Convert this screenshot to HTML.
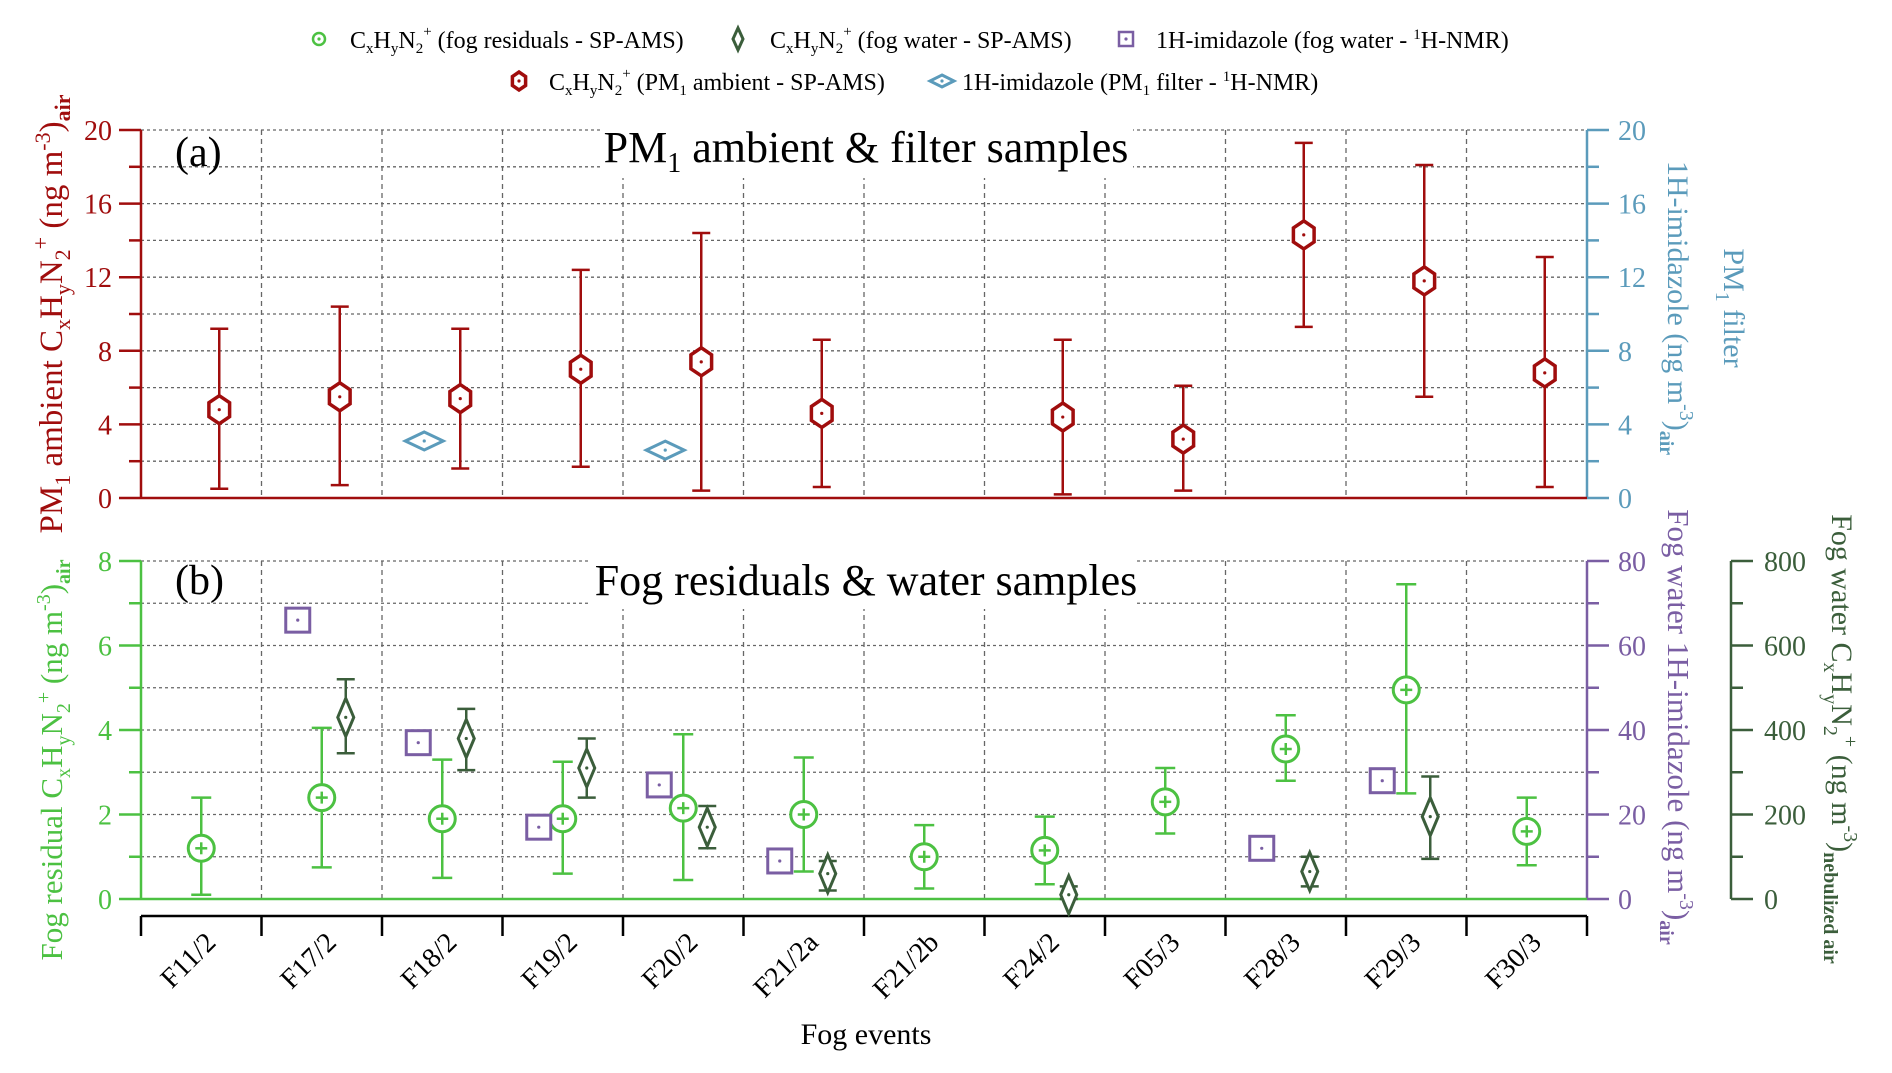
<!DOCTYPE html>
<html><head><meta charset="utf-8"><style>
html,body{margin:0;padding:0;background:#fff}
svg{display:block;font-family:"Liberation Serif",serif}
</style></head><body>
<svg id="c" width="1892" height="1073" viewBox="0 0 1892 1073" xmlns="http://www.w3.org/2000/svg">
<g id="grid"></g>
<rect x="603" y="124" width="530" height="54" fill="#fff"/>
<rect x="590" y="553" width="547" height="56" fill="#fff"/>
<text x="175" y="166" font-size="42">(a)</text>
<text x="866" y="162" font-size="44" text-anchor="middle">PM<tspan font-size="28" dy="10">1</tspan><tspan dy="-10"> ambient &amp; filter samples</tspan></text>
<text x="175" y="594" font-size="42">(b)</text>
<text x="866" y="595" font-size="44" text-anchor="middle">Fog residuals &amp; water samples</text>
<g id="axes"></g>
<g id="marks"></g>
<g id="legend"></g>
<text x="866" y="1044" font-size="30" text-anchor="middle">Fog events</text>
<text transform="translate(62,314) rotate(-90)" font-size="33" fill="#a00d0d" text-anchor="middle">PM<tspan font-size="22" dy="8">1</tspan><tspan dy="-8"> ambient C</tspan><tspan font-size="22" dy="8">x</tspan><tspan dy="-8">H</tspan><tspan font-size="22" dy="8">y</tspan><tspan dy="-8">N</tspan><tspan font-size="22" dy="8">2</tspan><tspan font-size="22" dy="-22">+</tspan><tspan dy="14"> (ng m</tspan><tspan font-size="22" dy="-12">-3</tspan><tspan dy="12">)</tspan><tspan font-size="22" font-weight="bold" dy="8">air</tspan></text>
<text transform="translate(62,760) rotate(-90)" font-size="31" fill="#4cc142" text-anchor="middle">Fog residual C<tspan font-size="20" dy="8">x</tspan><tspan dy="-8">H</tspan><tspan font-size="20" dy="8">y</tspan><tspan dy="-8">N</tspan><tspan font-size="20" dy="8">2</tspan><tspan font-size="20" dy="-20">+</tspan><tspan dy="12"> (ng m</tspan><tspan font-size="20" dy="-12">-3</tspan><tspan dy="12">)</tspan><tspan font-size="20" font-weight="bold" dy="8">air</tspan></text>
<text transform="translate(1668,308) rotate(90)" font-size="30" fill="#5b9bbb" text-anchor="middle">1H-imidazole (ng m<tspan font-size="20" dy="-12">-3</tspan><tspan dy="12">)</tspan><tspan font-size="20" font-weight="bold" dy="8">air</tspan></text>
<text transform="translate(1724,308) rotate(90)" font-size="30" fill="#5b9bbb" text-anchor="middle">PM<tspan font-size="20" dy="8">1</tspan><tspan dy="-8"> filter</tspan></text>
<text transform="translate(1668,727) rotate(90)" font-size="31" fill="#7a5ea3" text-anchor="middle">Fog water 1H-imidazole (ng m<tspan font-size="20" dy="-12">-3</tspan><tspan dy="12">)</tspan><tspan font-size="20" font-weight="bold" dy="8">air</tspan></text>
<text transform="translate(1832,739) rotate(90)" font-size="30" fill="#3b5e3b" text-anchor="middle">Fog water C<tspan font-size="20" dy="8">x</tspan><tspan dy="-8">H</tspan><tspan font-size="20" dy="8">y</tspan><tspan dy="-8">N</tspan><tspan font-size="20" dy="8">2</tspan><tspan font-size="20" dy="-20">+</tspan><tspan dy="12"> (ng m</tspan><tspan font-size="20" dy="-12">-3</tspan><tspan dy="12">)</tspan><tspan font-size="20" font-weight="bold" dy="8">nebulized air</tspan></text>
</svg>
<script>
const categories=["F11/2","F17/2","F18/2","F19/2","F20/2","F21/2a","F21/2b","F24/2","F05/3","F28/3","F29/3","F30/3"];
const pmMean=[4.8,5.5,5.4,7.0,7.4,4.6,null,4.4,3.2,14.3,11.8,6.8];
const pmLow=[0.5,0.7,1.6,1.7,0.4,0.6,null,0.2,0.4,9.3,5.5,0.6];
const pmHigh=[9.2,10.4,9.2,12.4,14.4,8.6,null,8.6,6.1,19.3,18.1,13.1];
const filterImid=[null,null,3.1,null,2.6,null,null,null,null,null,null,null];
const resMean=[1.2,2.4,1.9,1.9,2.15,2.0,1.0,1.15,2.3,3.55,4.95,1.6];
const resLow=[0.1,0.75,0.5,0.6,0.45,0.65,0.25,0.35,1.55,2.8,2.5,0.8];
const resHigh=[2.4,4.05,3.3,3.25,3.9,3.35,1.75,1.95,3.1,4.35,7.45,2.4];
const waterImid=[null,66,37,17,27,9,null,null,null,12,28,null];
const waterMean=[null,430,380,310,170,60,null,10,null,65,195,null];
const waterLow=[null,345,305,240,120,20,null,0,null,30,95,null];
const waterHigh=[null,520,450,380,220,90,null,30,null,100,290,null];
const ticksA=[0,4,8,12,16,20];
const ticksB=[0,2,4,6,8];
const ticksP=[0,20,40,60,80];
const ticksW=[0,200,400,600,800];

const NS="http://www.w3.org/2000/svg";
const XL=141,XR=1587,CW=(XR-XL)/12;
const cx=i=>XL+CW*(i+0.5);
const yA=v=>498-(v/20)*368;
const yB=v=>899-(v/8)*338;
const yP=v=>899-(v/80)*338;
const yW=v=>899-(v/800)*338;
const RED="#a00d0d",BLUE="#5b9bbb",GREEN="#4cc142",DG="#3b5e3b",PUR="#7a5ea3";
function mk(p,tag,at){const e=document.createElementNS(NS,tag);for(const k in at)e.setAttribute(k,at[k]);p.appendChild(e);return e;}
const grid=document.getElementById('grid'),axes=document.getElementById('axes'),marks=document.getElementById('marks'),legend=document.getElementById('legend');
for(let v=2;v<=20;v+=2){const l=mk(grid,'line',{x1:XL,x2:XR,y1:yA(v),y2:yA(v),stroke:'#666','stroke-width':1.3,'stroke-dasharray':'3,3'});

}
for(let v=1;v<=8;v++){const l=mk(grid,'line',{x1:XL,x2:XR,y1:yB(v),y2:yB(v),stroke:'#666','stroke-width':1.3,'stroke-dasharray':'3,3'});

}
for(let i=1;i<12;i++){const x=XL+CW*i;
const l=mk(grid,'line',{x1:x,x2:x,y1:yA(20),y2:yA(0),stroke:'#666','stroke-width':1.3,'stroke-dasharray':'5,4'});


const l2=mk(grid,'line',{x1:x,x2:x,y1:yB(8),y2:yB(0),stroke:'#666','stroke-width':1.3,'stroke-dasharray':'5,4'});

}
function vaxis(x,y0,y1,col,ticks,yf,d,lx,minor,name){
 const a=mk(axes,'line',{x1:x,x2:x,y1:y0,y2:y1,stroke:col,'stroke-width':2.5});
 
 
 minor.forEach(v=>{mk(axes,'line',{x1:x,x2:x+d*12,y1:yf(v),y2:yf(v),stroke:col,'stroke-width':2.5});});
 ticks.forEach(v=>{mk(axes,'line',{x1:x,x2:x+d*22,y1:yf(v),y2:yf(v),stroke:col,'stroke-width':2.5});
  const t=mk(axes,'text',{x:lx,y:yf(v)+10,'font-size':28,fill:col,'text-anchor':d<0?'end':'start'});t.textContent=v;
  
  });
}
vaxis(XL,yA(0),yA(20),RED,ticksA,yA,-1,112,[2,6,10,14,18],'y-axis-a-left');
vaxis(XR,yA(0),yA(20),BLUE,ticksA,yA,1,1618,[2,6,10,14,18],'y-axis-a-right');
vaxis(XL,yB(0),yB(8),GREEN,ticksB,yB,-1,112,[1,3,5,7],'y-axis-b-left');
vaxis(XR,yP(0),yP(80),PUR,ticksP,yP,1,1618,[10,30,50,70],'y-axis-b-right');
vaxis(1731,yW(0),yW(800),DG,ticksW,yW,1,1764,[100,300,500,700],'y-axis-b-water');
mk(axes,'line',{x1:XL,x2:XR,y1:yA(0),y2:yA(0),stroke:RED,'stroke-width':2.5});
mk(axes,'line',{x1:XL,x2:XR,y1:yB(0),y2:yB(0),stroke:GREEN,'stroke-width':2.5});
const xa=mk(axes,'line',{x1:XL,x2:XR,y1:916,y2:916,stroke:'#000','stroke-width':2.5});


for(let i=0;i<=12;i++){mk(axes,'line',{x1:XL+CW*i,x2:XL+CW*i,y1:916,y2:936,stroke:'#000','stroke-width':2.5});}
categories.forEach((c,i)=>{const t=mk(axes,'text',{transform:`translate(${cx(i)+16},944) rotate(-45)`,'font-size':28,'text-anchor':'end'});t.textContent=c;

});
function eb(x,lo,hi,col,w){mk(marks,'line',{x1:x,x2:x,y1:lo,y2:hi,stroke:col,'stroke-width':2.5});
 mk(marks,'line',{x1:x-w,x2:x+w,y1:lo,y2:lo,stroke:col,'stroke-width':2.5});
 mk(marks,'line',{x1:x-w,x2:x+w,y1:hi,y2:hi,stroke:col,'stroke-width':2.5});}
function hex(p,x,y,r,col){const pts=[];for(let k=0;k<6;k++){const a=Math.PI/6+k*Math.PI/3;pts.push((x+r*0.85*Math.cos(a)).toFixed(1)+','+(y+r*Math.sin(a)).toFixed(1));}
 return mk(p,'polygon',{points:pts.join(' '),fill:'#fff',stroke:col,'stroke-width':3.5});}
function diam(p,x,y,w,h,col){return mk(p,'polygon',{points:`${x},${y-h} ${x+w},${y} ${x},${y+h} ${x-w},${y}`,fill:'none',stroke:col,'stroke-width':3});}
function dot(p,x,y,col){mk(p,'circle',{cx:x,cy:y,r:1.6,fill:col});}
pmMean.forEach((v,i)=>{if(v==null)return;const x=cx(i)+18;
 eb(x,yA(pmLow[i]),yA(pmHigh[i]),RED,9);
 const h=hex(marks,x,yA(v),14,RED);
 
 
 dot(marks,x,yA(v),RED);});
filterImid.forEach((v,i)=>{if(v==null)return;const x=cx(i)-18;
 const d=diam(marks,x,yA(v),19,9,BLUE);
 
 
 dot(marks,x,yA(v),BLUE);});
resMean.forEach((v,i)=>{const x=cx(i);
 eb(x,yB(resLow[i]),yB(resHigh[i]),GREEN,10);
 const c=mk(marks,'circle',{cx:x,cy:yB(v),r:13,fill:'#fff',stroke:GREEN,'stroke-width':3});
 
 
 mk(marks,'line',{x1:x-6,x2:x+6,y1:yB(v),y2:yB(v),stroke:GREEN,'stroke-width':2.5});
 mk(marks,'line',{x1:x,x2:x,y1:yB(v)-6,y2:yB(v)+6,stroke:GREEN,'stroke-width':2.5});});
waterImid.forEach((v,i)=>{if(v==null)return;const x=cx(i)-24;
 const r=mk(marks,'rect',{x:x-12,y:yP(v)-12,width:24,height:24,fill:'#fff',stroke:PUR,'stroke-width':3});
 
 
 dot(marks,x,yP(v),PUR);});
waterMean.forEach((v,i)=>{if(v==null)return;const x=cx(i)+24;
 eb(x,yW(waterLow[i]),yW(waterHigh[i]),DG,9);
 const d=diam(marks,x,yW(v),8,19,DG);d.setAttribute('fill','#fff');
 
 
 dot(marks,x,yW(v),DG);});
function ltext(x,y,html){const t=mk(legend,'text',{x:x,y:y,'font-size':24});t.innerHTML=html;
 
 return t;}
const cxhy='C<tspan font-size="15" dy="5">x</tspan><tspan dy="-5">H</tspan><tspan font-size="15" dy="5">y</tspan><tspan dy="-5">N</tspan><tspan font-size="15" dy="5">2</tspan><tspan font-size="15" dy="-17">+</tspan><tspan dy="12"> </tspan>';
let e;
e=mk(legend,'circle',{cx:319,cy:39,r:6,fill:'none',stroke:GREEN,'stroke-width':2.5});dot(legend,319,39,GREEN);


ltext(350,48,cxhy+'(fog residuals - SP-AMS)');
e=diam(legend,738,39,5,11,DG);


ltext(770,48,cxhy+'(fog water - SP-AMS)');
e=mk(legend,'rect',{x:1119,y:32,width:14,height:14,fill:'none',stroke:PUR,'stroke-width':2.5});dot(legend,1126,39,PUR);


ltext(1156,48,'1H-imidazole (fog water - <tspan font-size="15" dy="-9">1</tspan><tspan dy="9">H-NMR)</tspan>');
e=hex(legend,519,81,9,RED);dot(legend,519,81,RED);


ltext(549,90,cxhy+'(PM<tspan font-size="15" dy="5">1</tspan><tspan dy="-5"> ambient - SP-AMS)</tspan>');
e=diam(legend,942,81,12,6,BLUE);dot(legend,942,81,BLUE);


ltext(962,90,'1H-imidazole (PM<tspan font-size="15" dy="5">1</tspan><tspan dy="-5"> filter - </tspan><tspan font-size="15" dy="-9">1</tspan><tspan dy="9">H-NMR)</tspan>');
</script>
</body></html>
